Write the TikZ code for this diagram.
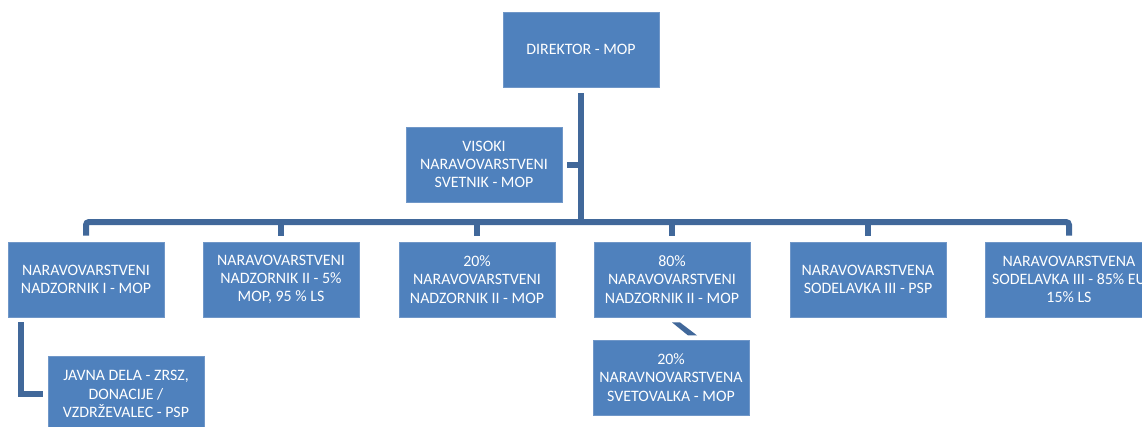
\documentclass[tikz,border=0pt]{standalone}
\usepackage{fontspec}
\setmainfont{Carlito}
\usetikzlibrary{calc}
\definecolor{boxfill}{HTML}{4F81BD}
\definecolor{boxedge}{HTML}{7097C8}
\definecolor{conncol}{HTML}{41689A}
\tikzset{
  orgbox/.style={draw=boxedge, line width=0.8pt, fill=boxfill, text=white,
    minimum width=156pt, minimum height=75pt, inner sep=0pt, align=center,
    font=\fontsize{15.9}{18.3}\selectfont},
  conn/.style={draw=conncol, line width=6pt}
}
\begin{document}
\begin{tikzpicture}[x=1pt,y=-1pt]
\clip (0,0) rectangle (1142,426);
\fill[white] (0,0) rectangle (1142,426);
\node[orgbox] (dir) at (581,49.5) {DIREKTOR - MOP};
\node[orgbox] (vis) at (484,164.5) {VISOKI\\NARAVOVARSTVENI\\SVETNIK - MOP};
\node[orgbox] (n1) at (86,279.5) {NARAVOVARSTVENI\\NADZORNIK I - MOP};
\node[orgbox] (n2) at (281,279.5) {NARAVOVARSTVENI\\NADZORNIK II - 5\%\\MOP, 95 \% LS};
\node[orgbox] (n3) at (477,279.5) {20\%\\NARAVOVARSTVENI\\NADZORNIK II - MOP};
\node[orgbox] (n4) at (672,279.5) {80\%\\NARAVOVARSTVENI\\NADZORNIK II - MOP};
\node[orgbox] (n5) at (868,279.5) {NARAVOVARSTVENA\\SODELAVKA III - PSP};
\node[orgbox, minimum width=168pt] (n6) at (1069,279.5) {NARAVOVARSTVENA\\SODELAVKA III - 85\% EU\\15\% LS};
\node[orgbox] (jav) at (126,394) {JAVNA DELA - ZRSZ,\\DONACIJE /\\VZDRŽEVALEC - PSP};
\node[orgbox] (svet) at (671,377.5) {20\%\\NARAVNOVARSTVENA\\SVETOVALKA - MOP};
\coordinate (bar) at (581,222);
% connectors
\draw[conn] ([yshift=-6pt]dir.south) -- (dir.south |- bar);
\draw[conn] ([xshift=5pt]vis.east) -- (vis.east -| dir.south);
\draw[conn, rounded corners=3pt] ([yshift=6pt]n1.north) |- (bar) -| ([yshift=6pt]n6.north);
\foreach \n in {n2,n3,n4,n5}{
  \draw[conn] ([yshift=6pt]\n.north) -- (\n.north |- bar);
}
\draw[conn] ([xshift=13pt,yshift=-5pt]n1.south west) |- ([xshift=-5pt]jav.west);
\fill[conncol] ($(n4.south)+(0,5)$) -- ($(n4.south)+(8,5)$) -- ($(n4.south)+(25,18)$) -- ($(n4.south)+(16,18)$) -- cycle;
\end{tikzpicture}
\end{document}
